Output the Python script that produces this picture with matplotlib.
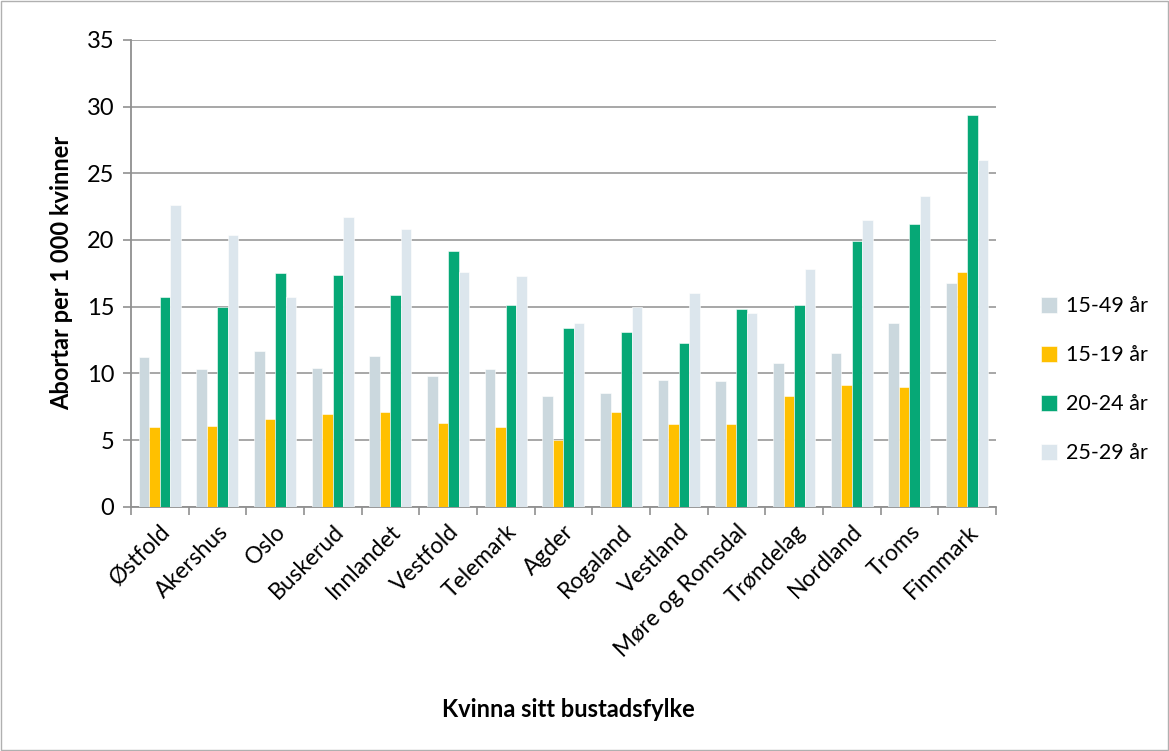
import numpy as np
import matplotlib
matplotlib.use("Agg")
from matplotlib import pyplot as plt
from matplotlib.patches import Rectangle

plt.rcParams['font.family'] = ['Lato', 'DejaVu Sans']

fylke = ['Østfold', 'Akershus', 'Oslo', 'Buskerud', 'Innlandet', 'Vestfold',
         'Telemark', 'Agder', 'Rogaland', 'Vestland', 'Møre og Romsdal',
         'Trøndelag', 'Nordland', 'Troms', 'Finnmark']
alder = ['15-49 år', '15-19 år', '20-24 år', '25-29 år']

v_15_49 = [11.2, 10.3, 11.7, 10.4, 11.3, 9.8, 10.3, 8.3, 8.5, 9.5, 9.4, 10.8, 11.5, 13.8, 16.8]
v_15_19 = [6.0, 6.1, 6.6, 7.0, 7.1, 6.3, 6.0, 5.0, 7.1, 6.2, 6.2, 8.3, 9.1, 9.0, 17.6]
v_20_24 = [15.7, 15.0, 17.5, 17.4, 15.9, 19.2, 15.1, 13.4, 13.1, 12.3, 14.8, 15.1, 19.9, 21.2, 29.4]
v_25_29 = [22.6, 20.4, 15.7, 21.7, 20.8, 17.6, 17.3, 13.8, 15.0, 16.0, 14.5, 17.8, 21.5, 23.3, 26.0]

farger = ['#CBD8DE', '#FFC000', '#06A876', '#DCE6ED']

fig = plt.figure(figsize=(11.69, 7.51), dpi=100)
ax = fig.add_axes([0.112, 0.325, 0.740, 0.622])

x = np.arange(len(fylke))
w = 0.182
serier = [v_15_49, v_15_19, v_20_24, v_25_29]
for i, (vals, c, lab) in enumerate(zip(serier, farger, alder)):
    ax.bar(x + (i - 1.5) * w, vals, width=w, color=c, label=lab,
           edgecolor='white', linewidth=0.4, zorder=3)

ax.set_xlim(-0.5, len(fylke) - 0.5)
ax.set_ylim(0, 35)
ax.set_yticks(range(0, 36, 5))
ax.yaxis.grid(True, color='#A0A0A0', linewidth=1.3, zorder=0)
ax.set_axisbelow(True)

ax.set_xticks(x)
ax.set_xticklabels(fylke, rotation=45, ha='right', rotation_mode='anchor', fontsize=16.5)
ax.set_xticks(np.arange(-0.5, len(fylke)), minor=True)
ax.tick_params(axis='x', which='major', length=0, pad=10)
ax.tick_params(axis='x', which='minor', length=6, color='#909090', width=1.2)
ax.tick_params(axis='y', length=6, color='#909090', width=1.2, labelsize=17, pad=6)

for s in ['top', 'right']:
    ax.spines[s].set_visible(False)
for s in ['left', 'bottom']:
    ax.spines[s].set_color('#909090')
    ax.spines[s].set_linewidth(1.3)

ax.set_ylabel('Abortar per 1 000 kvinner', fontsize=17, fontweight='bold', labelpad=10)
fig.text(0.486, 0.055, 'Kvinna sitt bustadsfylke', fontsize=17, fontweight='bold',
         ha='center', va='center')

ax.legend(loc='center left', bbox_to_anchor=(1.03, 0.272), frameon=False,
          fontsize=15.5, handlelength=0.75, handleheight=0.75, labelspacing=1.35,
          handletextpad=0.4)

fig.patches.append(Rectangle((0.001, 0.001), 0.998, 0.998, transform=fig.transFigure,
                             fill=False, edgecolor='#B0B0B0', linewidth=1))

fig.savefig('out.png', dpi=100)
